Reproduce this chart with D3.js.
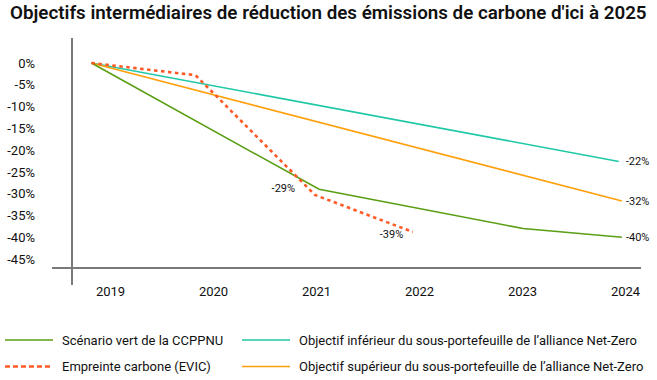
<!DOCTYPE html>
<html>
<head>
<meta charset="utf-8">
<script src="https://cdn.jsdelivr.net/npm/d3@7/dist/d3.min.js"></script>
<style>
  html, body { margin: 0; padding: 0; background: #fff; }
  svg { display: block; font-family: Roboto, "Noto Sans", sans-serif; }
</style>
</head>
<body>
<div id="chart"></div>
<script>
const title = "Objectifs intermédiaires de réduction des émissions de carbone d'ici à 2025";
const years = [2019, 2020, 2021, 2022, 2023, 2024];
const yTicks = [0, -5, -10, -15, -20, -25, -30, -35, -40, -45];

// Series: [fractional year, % change]
const greenName = "Scénario vert de la CCPPNU";
const greenX = [2018.82, 2021.03, 2023.01, 2023.97];
const greenY = [0, -29, -38, -40];

const redName = "Empreinte carbone (EVIC)";
const redX = [2018.82, 2019.83, 2020.99, 2021.94];
const redY = [0, -2.8, -30.3, -38.8];

const tealName = "Objectif inférieur du sous-portefeuille de l’alliance Net-Zero";
const tealX = [2018.82, 2023.94];
const tealY = [0, -22.6];

const orangeName = "Objectif supérieur du sous-portefeuille de l’alliance Net-Zero";
const orangeX = [2018.82, 2023.97];
const orangeY = [0, -31.7];

// Value labels
const labelText = ["-22%", "-32%", "-40%", "-29%", "-39%"];

const W = 657, H = 380;
const svg = d3.select("#chart").append("svg").attr("width", W).attr("height", H);

const x = d3.scaleLinear().domain([2019, 2024]).range([110, 625]);
const y = d3.scaleLinear().domain([0, -45]).range([63, 259]);

const colors = { green: "#5a9e14", red: "#ff5a26", teal: "#1fc8a6", orange: "#ffa00c" };

// Title
const t = svg.append("text")
  .attr("x", 10).attr("y", 19)
  .attr("font-size", 17).attr("font-weight", 600)
  .attr("fill", "#111")
  .text(title);
const tw = t.node().getComputedTextLength();
t.attr("font-size", 17 * 637 / tw);

// Axis frame
const axisColor = "#7a7a7a";
svg.append("line").attr("x1", 72).attr("x2", 72).attr("y1", 38).attr("y2", 285)
  .attr("stroke", axisColor).attr("stroke-width", 2);
svg.append("line").attr("x1", 52).attr("x2", 641).attr("y1", 268).attr("y2", 268)
  .attr("stroke", axisColor).attr("stroke-width", 2);

// Y axis labels
const yAxis = svg.append("g").attr("transform", "translate(39,0)")
  .call(d3.axisLeft(y).tickValues(yTicks).tickSize(0).tickPadding(4).tickFormat(d => d + "%"));
yAxis.select(".domain").remove();
yAxis.selectAll("text").attr("font-size", 13).attr("font-family", "Roboto, sans-serif").attr("fill", "#111");

// X axis labels
const xAxis = svg.append("g").attr("transform", "translate(0,268)")
  .call(d3.axisBottom(x).tickValues(years).tickSize(0).tickPadding(19).tickFormat(d3.format("d")));
xAxis.select(".domain").remove();
xAxis.selectAll("text").attr("font-size", 13).attr("font-family", "Roboto, sans-serif").attr("fill", "#111");

const line = d3.line().x(d => x(d[0])).y(d => y(d[1]));
const zipS = (xs, ys) => xs.map((v, i) => [v, ys[i]]);

const series = [
  { pts: zipS(tealX, tealY), color: colors.teal, dash: null, w: 1.6 },
  { pts: zipS(orangeX, orangeY), color: colors.orange, dash: null, w: 1.6 },
  { pts: zipS(greenX, greenY), color: colors.green, dash: null, w: 1.6 },
  { pts: zipS(redX, redY), color: colors.red, dash: "3.5,3.5", w: 2.6 }
];
series.forEach(s => {
  svg.append("path").datum(s.pts).attr("d", line)
    .attr("fill", "none").attr("stroke", s.color).attr("stroke-width", s.w)
    .attr("stroke-dasharray", s.dash);
});

// Value labels
const lab = svg.append("g").attr("font-size", 11).attr("fill", "#111");
lab.append("text").attr("x", x(tealX[1]) + 7).attr("y", y(tealY[1])).attr("dy", "0.35em").text(labelText[0]);
lab.append("text").attr("x", x(orangeX[1]) + 4).attr("y", y(orangeY[1])).attr("dy", "0.35em").text(labelText[1]);
lab.append("text").attr("x", x(greenX[3]) + 4).attr("y", y(greenY[3])).attr("dy", "0.35em").text(labelText[2]);
lab.append("text").attr("x", x(greenX[1]) - 24).attr("y", y(greenY[1]) - 1).attr("dy", "0.35em")
  .attr("text-anchor", "end").text(labelText[3]);
lab.append("text").attr("x", x(redX[3]) - 33).attr("y", y(redY[3]) + 2.5).attr("dy", "0.35em").text(labelText[4]);

// Legend
const legend = [
  { name: greenName, color: colors.green, dash: null, lx: 5, ly: 340 },
  { name: tealName, color: colors.teal, dash: null, lx: 242, ly: 340 },
  { name: redName, color: colors.red, dash: "5,3", lx: 5, ly: 366.5 },
  { name: orangeName, color: colors.orange, dash: null, lx: 242, ly: 366.5 }
];
const lg = svg.append("g");
legend.forEach(l => {
  lg.append("line").attr("x1", l.lx).attr("x2", l.lx + 48).attr("y1", l.ly).attr("y2", l.ly)
    .attr("stroke", l.color).attr("stroke-width", l.dash ? 2.6 : 1.6).attr("stroke-dasharray", l.dash);
  lg.append("text").attr("x", l.lx + 57).attr("y", l.ly).attr("dy", "0.35em")
    .attr("font-size", 13).attr("fill", "#111").text(l.name);
});
</script>
</body>
</html>
